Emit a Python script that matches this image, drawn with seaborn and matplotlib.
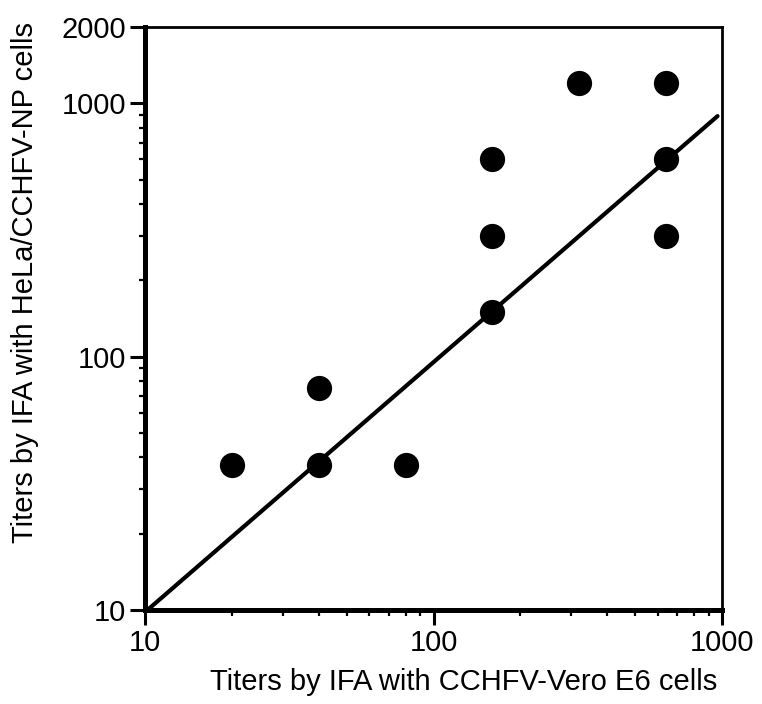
import matplotlib
matplotlib.use("Agg")
import matplotlib.pyplot as plt
import seaborn as sns
import pandas as pd
from matplotlib.ticker import FixedLocator, NullFormatter, LogLocator

# data
vero_titers = [20, 40, 40, 80, 160, 160, 160, 320, 640, 640, 640]
hela_titers = [37.5, 37.5, 75, 37.5, 150, 300, 600, 1200, 1200, 600, 300]
line_x = [10.2, 965]
line_y = [10, 890]
x_ticks = [10, 100, 1000]
y_ticks = [10, 100, 1000, 2000]

sns.set_style("white")
plt.rcParams['font.family'] = ['Liberation Sans', 'DejaVu Sans']

df = pd.DataFrame({"x": vero_titers, "y": hela_titers})
ldf = pd.DataFrame({"x": line_x, "y": line_y})

fig = plt.figure(figsize=(7.62, 7.04), dpi=100)
ax = fig.add_axes([145/762, 1-610/704, 577/762, 583/704])

sns.lineplot(data=ldf, x="x", y="y", ax=ax, color="black", linewidth=3.0, zorder=2)
sns.scatterplot(data=df, x="x", y="y", ax=ax, color="black", s=330,
                edgecolor="black", linewidth=0, zorder=3)

ax.set_xscale("log")
ax.set_yscale("log")
ax.set_xlim(10, 1000)
ax.set_ylim(10, 2000)

ax.xaxis.set_major_locator(FixedLocator(x_ticks))
ax.yaxis.set_major_locator(FixedLocator(y_ticks))
ax.set_xticklabels([str(t) for t in x_ticks])
ax.set_yticklabels([str(t) for t in y_ticks])
ax.xaxis.set_minor_locator(LogLocator(base=10, subs=range(2, 10)))
ax.yaxis.set_minor_locator(LogLocator(base=10, subs=range(2, 10)))
ax.xaxis.set_minor_formatter(NullFormatter())
ax.yaxis.set_minor_formatter(NullFormatter())

ax.tick_params(which="major", direction="out", length=10.5, width=2.2,
               labelsize=21, color="black", labelcolor="black", pad=3,
               bottom=True, left=True)
ax.tick_params(which="minor", direction="out", length=4.5, width=1.6,
               color="black", bottom=True, left=True)

for side in ["left", "bottom"]:
    ax.spines[side].set_linewidth(3.6)
    ax.spines[side].set_color("black")
for side in ["top", "right"]:
    ax.spines[side].set_linewidth(2.0)
    ax.spines[side].set_color("black")
    ax.spines[side].set_visible(True)

ax.set_xlabel("Titers by IFA with CCHFV-Vero E6 cells", fontsize=21, color="black", labelpad=8)
ax.set_ylabel("Titers by IFA with HeLa/CCHFV-NP cells", fontsize=21, color="black", labelpad=16)
ax.xaxis.label.set_x(0.553)
ax.yaxis.label.set_y(0.561)

fig.savefig("out.png", dpi=100)
